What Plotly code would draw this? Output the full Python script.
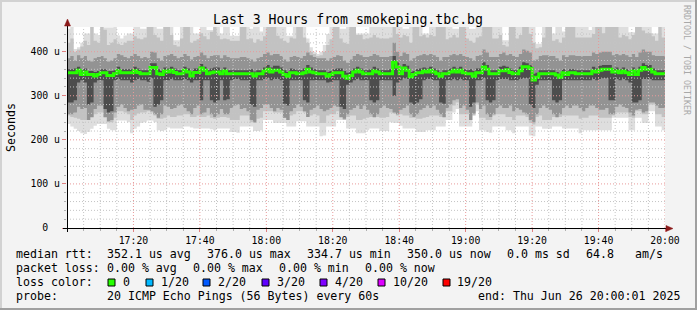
import plotly.graph_objects as go
import pandas as pd

# ---------------- data (microseconds), one value per minute 17:00 -> 20:00 ----------------
median = [352,352,352,358,348,354,348,348,345,348,
          352,352,346,346,350,357,352,352,352,352,
          357,353,350,350,350,364,364,350,348,356,
          354,358,353,350,350,358,354,345,353,353,
          363,358,350,352,354,354,350,356,350,350,
          350,350,350,350,350,350,345,350,350,356,
          360,354,358,358,354,348,344,352,352,350,
          350,352,360,354,352,350,350,350,344,348,
          352,352,352,344,340,346,354,358,354,350,
          350,350,356,354,350,350,350,350,376,365,
          350,363,358,343,348,352,352,356,354,358,
          354,350,344,350,350,354,358,354,358,352,
          350,350,344,352,352,365,360,350,350,350,
          357,357,359,353,350,350,357,366,366,362,
          336,342,350,350,350,350,350,347,342,352,
          348,352,352,350,350,350,350,350,356,354,
          358,360,360,360,354,356,352,356,352,348,
          356,348,358,364,360,360,354,350,350,350]

ping_lo = [236,230,225,220,215,213,218,225,232,236,
           236,236,225,222,222,244,244,244,240,215,
           225,230,238,240,244,244,240,222,220,222,
           228,226,226,226,226,230,230,228,226,226,
           226,226,226,224,222,226,226,226,226,218,
           218,216,230,230,230,230,220,220,222,245,
           245,245,238,238,238,238,230,230,230,242,
           242,242,230,230,230,230,208,210,230,230,
           230,245,245,245,226,226,226,215,215,215,
           222,226,226,226,220,220,220,240,238,238,
           232,226,226,226,226,218,218,218,222,222,
           222,230,230,230,245,245,262,270,230,230,
           230,230,265,265,222,222,218,216,230,230,
           230,230,222,222,215,230,230,230,230,210,
           208,230,230,225,225,225,230,230,230,226,
           226,226,226,226,215,222,222,222,222,222,
           222,222,222,222,250,250,250,250,250,222,
           222,250,250,238,238,265,265,230,230,222]

ping_p15 = [255,252,250,248,245,245,245,250,258,262,
            262,250,240,240,250,265,265,262,258,245,
            255,260,262,262,265,262,255,248,248,250,
            255,252,252,255,255,258,258,252,252,255,
            252,252,255,250,248,250,252,252,250,245,
            245,245,255,255,255,240,238,248,250,265,
            265,265,262,262,262,250,245,255,258,265,
            265,262,252,255,258,255,238,238,255,258,
            258,265,250,245,252,255,255,245,245,248,
            250,252,250,252,250,250,252,262,260,255,
            258,255,255,250,250,248,248,250,252,255,
            255,255,252,250,265,265,278,285,258,258,
            258,245,255,280,250,250,245,245,255,258,
            258,258,252,252,245,255,255,255,252,238,
            235,252,255,245,245,245,252,250,252,255,
            255,255,255,255,248,250,250,255,255,255,
            250,250,250,250,255,262,262,262,262,252,
            250,265,265,258,258,280,280,258,258,252]

ping_p30 = [258,258,262,275,270,272,245,252,270,278,
            278,252,242,245,262,275,280,272,265,268,
            270,278,280,268,268,265,258,250,258,278,
            275,270,272,278,280,272,265,258,272,278,
            258,262,272,258,252,258,270,258,258,272,
            278,280,270,272,265,245,240,268,272,280,
            280,272,265,272,268,250,245,265,272,280,
            275,265,252,268,272,278,270,265,268,272,
            278,275,252,248,258,268,272,278,270,278,
            268,258,252,258,272,278,272,270,262,258,
            268,272,278,258,252,258,268,272,278,272,
            278,268,258,252,272,280,290,292,272,278,
            268,245,260,285,270,278,258,252,258,272,
            278,272,272,278,265,272,268,262,258,245,
            240,258,272,278,272,268,258,252,258,272,
            278,272,278,278,272,265,272,278,278,272,
            268,268,272,258,258,275,280,275,272,262,
            255,268,270,262,265,285,285,278,272,272]

ping_p45 = [285,285,290,330,335,330,280,285,330,335,
            335,270,262,265,335,338,335,335,335,330,
            335,338,335,335,332,340,275,280,290,335,
            335,338,335,335,335,338,335,330,335,335,
            290,335,335,290,285,290,335,290,292,335,
            338,338,335,335,335,280,275,335,335,338,
            340,335,338,338,335,282,278,335,335,335,
            335,290,285,335,335,335,335,335,330,332,
            335,335,275,270,325,330,335,338,335,335,
            335,290,285,290,335,335,335,335,300,330,
            335,340,338,285,280,285,292,335,338,338,
            335,335,285,282,335,335,338,335,338,335,
            335,275,285,335,335,340,290,285,290,335,
            338,338,338,335,335,335,338,340,340,280,
            272,325,335,335,335,335,290,285,290,335,
            335,335,335,335,335,335,335,335,338,335,
            338,340,340,290,290,338,335,338,335,330,
            285,285,290,338,338,338,335,335,335,335]

ping_p55 = [360,360,362,366,358,362,356,356,354,356,
            360,360,356,356,358,366,360,360,360,360,
            366,362,358,358,358,374,374,360,356,364,
            362,366,362,358,358,366,362,354,362,362,
            372,366,358,362,364,364,358,364,358,358,
            358,358,358,358,358,360,355,358,358,364,
            370,364,368,368,364,358,354,362,360,358,
            358,362,370,364,360,358,358,358,354,356,
            360,362,362,356,352,356,362,366,362,358,
            358,360,366,362,358,358,358,360,390,376,
            360,372,368,354,356,360,362,364,362,366,
            362,358,354,358,358,362,366,362,366,360,
            358,360,356,362,362,376,370,358,358,358,
            366,368,366,362,358,358,366,376,374,370,
            350,352,358,358,358,358,358,354,350,360,
            356,360,360,358,358,358,358,358,366,362,
            368,370,370,370,362,364,360,364,360,356,
            364,356,366,374,370,370,362,358,358,358]

ping_p70 = [385,390,380,392,385,390,380,378,385,388,
            390,385,378,380,385,395,392,388,385,390,
            395,390,385,388,385,400,398,385,380,390,
            392,395,390,385,388,395,390,382,388,390,
            398,392,385,390,392,392,385,392,388,385,
            385,385,388,388,385,382,378,385,388,395,
            398,392,395,395,390,382,378,388,390,388,
            385,390,398,392,388,385,385,385,380,385,
            388,392,390,380,375,382,390,395,392,388,
            388,390,395,392,388,388,388,390,420,400,
            390,398,395,380,385,390,392,395,392,395,
            392,388,380,388,388,392,395,392,395,390,
            388,385,380,390,392,405,398,388,388,388,
            395,398,392,395,390,388,395,405,402,398,
            380,382,390,392,392,390,390,385,380,392,
            388,392,392,390,390,390,390,390,398,395,
            398,400,400,400,392,395,392,395,392,388,
            395,388,398,405,400,400,392,390,390,390]

ping_p85 = [420,430,400,405,412,425,415,470,425,420,
            470,450,415,420,428,418,415,420,425,425,
            435,430,428,432,470,470,438,432,425,470,
            470,438,415,412,430,470,470,420,425,428,
            442,435,428,445,470,436,428,430,428,425,
            425,425,470,470,428,430,420,428,425,435,
            470,470,470,436,430,425,420,432,430,470,
            470,432,420,400,395,390,392,400,415,428,
            470,470,430,420,418,470,470,438,438,428,
            430,432,438,432,430,430,430,432,470,440,
            432,438,435,420,470,470,435,438,432,438,
            435,470,470,470,428,432,438,432,470,470,
            430,425,420,432,435,470,470,470,430,430,
            438,415,412,470,470,430,438,470,470,440,
            420,408,410,432,470,470,425,428,420,432,
            470,470,470,432,432,432,432,432,440,470,
            470,442,470,470,470,470,432,438,435,428,
            438,470,470,448,442,442,435,425,470,432]

ping_hi = [452,470,406,410,420,441,441,470,441,438,
           470,455,455,455,470,437,430,437,441,441,
           470,470,452,452,470,470,470,452,452,470,
           470,470,426,426,470,470,470,470,441,441,
           470,470,449,449,470,470,441,470,470,436,
           436,436,470,470,470,452,470,470,446,470,
           470,470,470,470,470,470,436,436,470,470,
           470,470,430,410,400,395,400,415,440,470,
           470,470,452,452,470,470,470,441,441,441,
           441,470,470,470,470,470,470,470,470,470,
           470,452,452,470,470,470,470,441,441,470,
           470,470,470,470,470,470,452,452,470,470,
           470,452,452,470,470,470,470,470,470,470,
           470,426,426,470,470,470,470,470,470,470,
           470,418,418,470,470,470,441,470,470,446,
           470,470,470,470,470,470,470,449,470,470,
           470,470,470,470,470,470,470,470,470,444,
           444,470,470,470,470,470,441,441,470,470]

y_ticks = [0, 100, 200, 300, 400]
y_tick_labels = ["0\u00a0\u00a0", "100 u", "200 u", "300 u", "400 u"]
x_tick_labels = ["17:20", "17:40", "18:00", "18:20", "18:40", "19:00", "19:20", "19:40", "20:00"]

title_text = "Last 3 Hours from smokeping.tbc.bg"
row_median = ["median rtt:", "352.1 us avg", "376.0 us max", "334.7 us min", "350.0 us now", "0.0 ms sd", "64.8", "am/s"]
row_loss = ["packet loss:", "0.00 % avg", "0.00 % max", "0.00 % min", "0.00 % now"]
loss_labels = ["0", "1/20", "2/20", "3/20", "4/20", "10/20", "19/20"]
loss_colors = ["#26ff00", "#00b8ff", "#0059ff", "#5e00ff", "#7e00ff", "#dd00ff", "#ff0000"]
row_probe = ["probe:", "20 ICMP Echo Pings (56 Bytes) every 60s", "end: Thu Jun 26 20:00:01 2025"]

for arr in (median, ping_lo, ping_p15, ping_p30, ping_p45, ping_p55, ping_p70, ping_p85, ping_hi):
    assert len(arr) == 180, len(arr)

# ---------------- geometry ----------------
W, H = 697, 310
L, R, T, B = 67, 665, 27, 228
PW, PH = R - L, B - T
YMAX = 456

def px(x):
    return (x - L) / PW

def py(y):
    return (B - y) / PH

times = pd.date_range("2025-06-26 17:00", periods=181, freq="min")
def ext(a):
    return list(a) + [a[-1]]

fig = go.Figure()
layers = [(ping_lo, ping_hi, "#dedede"),
          (ping_p15, ping_p85, "#c2c2c2"),
          (ping_p30, ping_p70, "#939393"),
          (ping_p45, ping_p55, "#4d4d4d")]
for low, high, col in layers:
    fig.add_trace(go.Scatter(x=times, y=ext(low), mode="lines",
                             line=dict(width=0, shape="hv"), hoverinfo="skip", showlegend=False))
    fig.add_trace(go.Scatter(x=times, y=ext(high), mode="lines",
                             line=dict(width=0, shape="hv"), fill="tonexty", fillcolor=col,
                             hoverinfo="skip", showlegend=False))
fig.add_trace(go.Scatter(x=times, y=ext(median), mode="lines",
                         line=dict(color=loss_colors[0], width=3, shape="hv"),
                         hoverinfo="skip", showlegend=False))

shapes = []
# grid (drawn above the smoke like rrdtool)
for v in range(20, YMAX, 20):
    major = v % 100 == 0
    shapes.append(dict(type="line", xref="paper", yref="y", x0=0, x1=1, y0=v, y1=v, layer="above",
                       line=dict(color="#e89a9a" if major else "#c4c4c4", width=1, dash="1px,2px")))
t0 = times[0]
for m in range(5, 181, 5):
    major = m % 20 == 0
    t = t0 + pd.Timedelta(minutes=m)
    shapes.append(dict(type="line", xref="x", yref="paper", x0=t, x1=t, y0=0, y1=1, layer="above",
                       line=dict(color="#e89a9a" if major else "#c4c4c4", width=1, dash="1px,2px")))

# axes lines and arrows
axis_col = "#000000"
arrow_col = "#8b1a1a"
shapes.append(dict(type="line", xref="paper", yref="paper", x0=px(63), x1=px(669), y0=py(228.5), y1=py(228.5),
                   layer="above", line=dict(color=axis_col, width=1)))
shapes.append(dict(type="line", xref="paper", yref="paper", x0=px(67.5), x1=px(67.5), y0=py(232), y1=py(22),
                   layer="above", line=dict(color=axis_col, width=1)))
shapes.append(dict(type="path", xref="paper", yref="paper", layer="above",
                   path=f"M {px(64.5)},{py(26)} L {px(70.5)},{py(26)} L {px(67.5)},{py(19)} Z",
                   fillcolor=arrow_col, line=dict(color=arrow_col, width=0.5)))
shapes.append(dict(type="path", xref="paper", yref="paper", layer="above",
                   path=f"M {px(666)},{py(225.5)} L {px(666)},{py(231.5)} L {px(673)},{py(228.5)} Z",
                   fillcolor=arrow_col, line=dict(color=arrow_col, width=0.5)))

# frame of the image
shapes.append(dict(type="rect", xref="paper", yref="paper", x0=px(0), x1=px(W), y0=py(0), y1=py(2),
                   layer="below", fillcolor="#d2d2d2", line=dict(width=0)))
shapes.append(dict(type="rect", xref="paper", yref="paper", x0=px(0), x1=px(2), y0=py(0), y1=py(H),
                   layer="below", fillcolor="#d2d2d2", line=dict(width=0)))
shapes.append(dict(type="rect", xref="paper", yref="paper", x0=px(W - 2), x1=px(W), y0=py(0), y1=py(H),
                   layer="below", fillcolor="#a0a0a0", line=dict(width=0)))
shapes.append(dict(type="rect", xref="paper", yref="paper", x0=px(0), x1=px(W), y0=py(H - 2), y1=py(H),
                   layer="below", fillcolor="#a0a0a0", line=dict(width=0)))

# loss color boxes
box_x = [108, 146, 203, 262, 320, 378, 443]
label_x = [123, 160.7, 218, 276.7, 334.7, 392.7, 457.3]
for bx, c in zip(box_x, loss_colors):
    shapes.append(dict(type="rect", xref="paper", yref="paper", x0=px(bx), x1=px(bx + 7),
                       y0=py(279), y1=py(286), fillcolor=c, line=dict(color="#000000", width=1), layer="above"))

MONO = "DejaVu Sans Mono"
anns = []
def txt(s, x, y, size=11.6, color="#000000", anchor="left", angle=0):
    anns.append(dict(text=s, x=px(x), y=py(y), xref="paper", yref="paper", showarrow=False,
                     xanchor=anchor, yanchor="middle", textangle=angle,
                     font=dict(family=MONO, size=size, color=color), borderpad=0))

txt(title_text, 348, 19.5, size=13.2, anchor="center")
txt("Seconds", 10.5, 127.5, angle=-90, anchor="center")
txt("RRDTOOL / TOBI OETIKER", 687, 60, size=8.3, color="#a8a8a8", anchor="center", angle=90)

for s, x in zip(row_median, [16, 107.3, 207.3, 307.3, 406.7, 506.7, 586, 635]):
    txt(s, x - 1, 254.3)
for s, x in zip(row_loss, [16, 107.3, 193.3, 279.3, 365]):
    txt(s, x - 1, 268.3)
txt("loss color:", 15, 282.3)
for s, x in zip(loss_labels, label_x):
    txt(s, x - 1, 282.3)
for s, x in zip(row_probe, [16, 107.3, 478.3]):
    txt(s, x - 1, 296.3)

x_tick_vals = [t0 + pd.Timedelta(minutes=m) for m in range(20, 181, 20)]

fig.update_layout(
    width=W, height=H,
    margin=dict(l=L, r=W - R, t=T, b=H - B, pad=0),
    paper_bgcolor="#f3f3f3", plot_bgcolor="#ffffff",
    showlegend=False, hovermode=False,
    shapes=shapes, annotations=anns,
    xaxis=dict(range=[times[0], times[-1]], tickvals=x_tick_vals, ticktext=x_tick_labels,
               showgrid=False, zeroline=False, showline=False,
               ticks="outside", ticklen=3, tickcolor="#e08080", tickwidth=1,
               tickfont=dict(family=MONO, size=9.8, color="#000000"),
               minor=dict(dtick=5 * 60 * 1000, ticks="outside", ticklen=2, tickcolor="#b0b0b0", showgrid=False)),
    yaxis=dict(range=[0, YMAX], tickvals=y_ticks, ticktext=y_tick_labels,
               showgrid=False, zeroline=False, showline=False,
               ticks="outside", ticklen=4, tickcolor="#e08080", tickwidth=1,
               tickfont=dict(family=MONO, size=9.8, color="#000000"),
               minor=dict(dtick=20, ticks="outside", ticklen=2, tickcolor="#b0b0b0", showgrid=False)),
)

fig.write_html("out.html")
